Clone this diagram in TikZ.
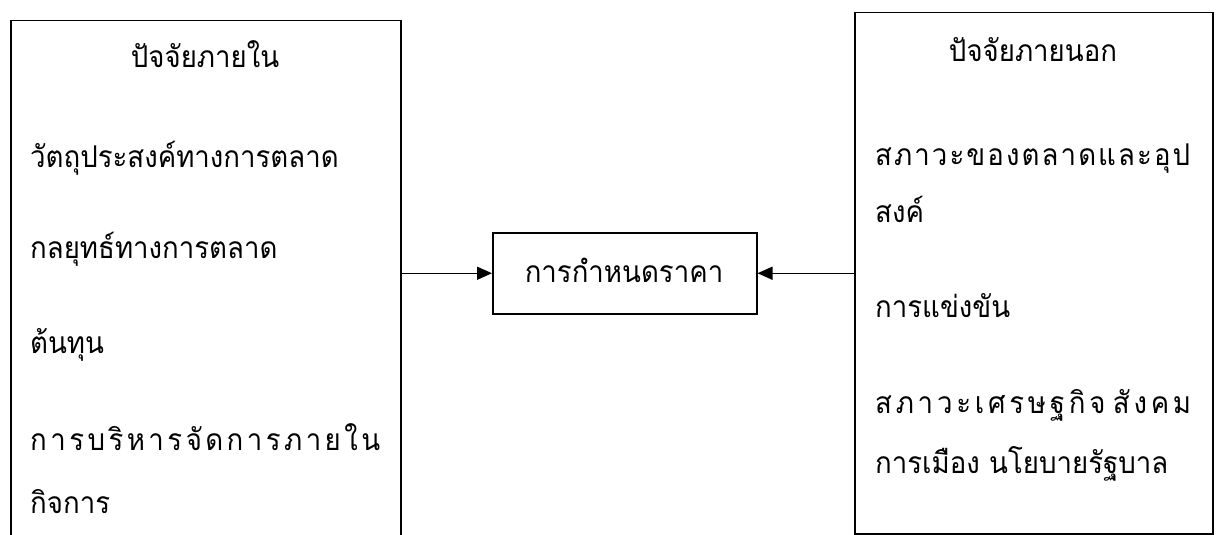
\documentclass[tikz,border=0pt]{standalone}
\usepackage{fontspec}
\newfontfamily\thai[Script=Thai,FakeStretch=0.92]{Loma}
\usetikzlibrary{arrows.meta}
% spread a run of Thai clusters across a fixed width
\newcommand{\spreadline}[2]{\makebox[#1][l]{#2}}
\begin{document}
\begin{tikzpicture}[x=1pt,y=-1pt,
  every node/.style={font=\thai\fontsize{30}{36}\selectfont, inner sep=0pt},
  frame/.style={draw, line width=1.5pt},
  item/.style={anchor=base west},
  head/.style={anchor=base},
  link/.style={line width=1.5pt, -{Triangle[length=15pt,width=13pt]}}]
\useasboundingbox (0,0) rectangle (1221,535);
\fill[white] (0,0) rectangle (1221,535);

% three boxes
\node[frame, minimum width=390pt, minimum height=540pt, anchor=north west] (inner) at (10,20) {};
\node[frame, minimum width=358pt, minimum height=521pt, anchor=north west] (outer) at (854,12) {};
\node[frame, minimum width=264pt, minimum height=81pt, anchor=north west] (price) at (492,232) {};

% internal factors
\node[head] (ih) at (205,68) {ปัจจัยภายใน};
\node[item] (i1) at (30,167) {วัตถุประสงค์ทางการตลาด};
\node[item] (i2) at (30,258) {กลยุทธ์ทางการตลาด};
\node[item] (i3) at (30,353) {ต้นทุน};
\node[item] (i4) at (30,450) {\spreadline{350pt}{ก\hfill า\hfill ร\hfill บ\hfill ริ\hfill ห\hfill า\hfill ร\hfill จั\hfill ด\hfill ก\hfill า\hfill ร\hfill ภ\hfill า\hfill ย\hfill ใ\hfill น}};
\node[item] (i5) at (30,513) {กิจการ};

% external factors
\node[head] (oh) at (1033,62) {ปัจจัยภายนอก};
\node[item] (o1) at (875,165) {\spreadline{315pt}{ส\hfill ภ\hfill า\hfill ว\hfill ะ\hfill ข\hfill อ\hfill ง\hfill ต\hfill ล\hfill า\hfill ด\hfill แ\hfill ล\hfill ะ\hfill อุ\hfill ป}};
\node[item] (o2) at (875,222) {สงค์};
\node[item] (o3) at (875,317) {การแข่งขัน};
\node[item] (o4) at (875,413) {\spreadline{316pt}{ส\hfill ภ\hfill า\hfill ว\hfill ะ\hfill เ\hfill ศ\hfill ร\hfill ษ\hfill ฐ\hfill กิ\hfill จ\hfill\hfill สั\hfill ง\hfill ค\hfill ม}};
\node[item] (o5) at (875,473) {การเมือง นโยบายรัฐบาล};

% pricing
\node[head] (pt) at (624,282) {การกำหนดราคา};

% connectors
\draw[link] (inner.east |- price.west) -- (price.west);
\draw[link] (outer.west |- price.east) -- (price.east);
\end{tikzpicture}
\end{document}
